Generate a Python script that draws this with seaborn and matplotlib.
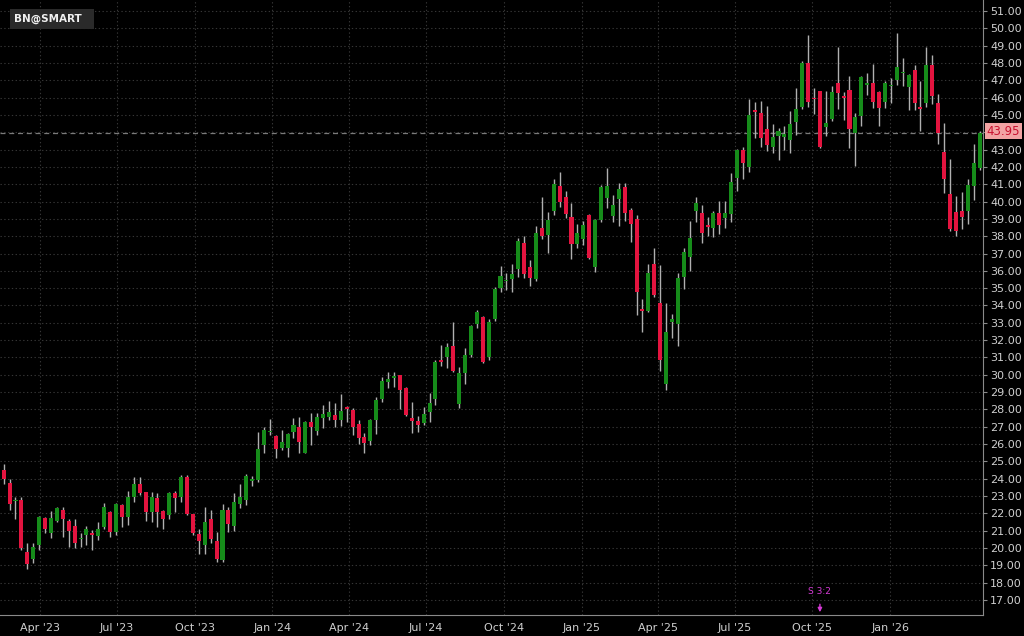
import numpy as np
import pandas as pd
import matplotlib
matplotlib.use("Agg")
import matplotlib.pyplot as plt
import matplotlib.dates as mdates
import seaborn as sns

# ---------------- data (weekly OHLC) ----------------
opens = [24.50, 23.76, 22.70, 22.76, 19.78, 19.39, 20.16, 21.74, 20.88, 21.57,
         22.22, 21.57, 21.26, 20.49, 20.74, 20.88, 20.68, 21.22, 22.09, 20.93,
         22.47, 21.80, 22.95, 23.72, 23.24, 22.09, 22.86, 22.15, 21.90, 23.19,
         22.95, 24.07, 21.95, 20.80, 20.16, 21.70, 20.41, 19.30, 22.18, 21.26,
         22.53, 22.76, 23.88, 23.92, 25.94, 26.68, 26.46, 25.80, 25.75, 26.71,
         26.98, 25.50, 27.29, 26.77, 27.48, 27.57, 27.67, 27.38, 28.11, 27.96,
         27.15, 26.42, 26.19, 27.38, 28.58, 29.60, 29.81, 29.98, 29.21, 27.52,
         27.34, 27.19, 27.86, 28.58, 30.85, 31.04, 31.66, 28.30, 30.08, 31.14,
         32.93, 33.35, 31.04, 33.20, 34.99, 35.42, 35.51, 36.09, 37.63, 36.20,
         35.51, 38.45, 38.07, 39.47, 40.90, 40.24, 39.09, 37.55, 37.82, 39.22,
         36.24, 38.93, 40.19, 39.16, 40.13, 40.86, 39.51, 38.97, 33.77, 33.69,
         36.39, 34.16, 29.46, 33.06, 32.92, 35.66, 36.77, 39.47, 39.32, 38.64,
         38.45, 39.35, 39.03, 39.28, 41.34, 42.97, 42.01, 45.28, 45.09, 44.17,
         43.13, 43.78, 43.70, 43.55, 44.61, 45.44, 48.02, 45.96, 46.40, 44.32,
         44.74, 46.86, 46.09, 46.44, 43.97, 44.94, 46.73, 46.86, 46.34, 45.76,
         46.67, 47.02, 47.40, 46.63, 47.59, 45.44, 45.67, 47.88, 45.71, 42.88,
         40.43, 39.41, 39.47, 39.47, 40.89, 41.92]
highs = [24.84, 23.96, 22.92, 22.92, 20.26, 20.26, 21.85, 21.80, 22.13, 22.34,
         22.38, 21.65, 21.65, 20.84, 21.26, 21.03, 21.51, 22.57, 22.13, 22.57,
         22.53, 23.30, 24.07, 24.07, 23.24, 23.24, 23.15, 22.18, 23.24, 23.30,
         24.21, 24.21, 21.95, 21.12, 22.34, 22.22, 20.93, 22.53, 22.38, 23.19,
         23.69, 24.26, 24.15, 26.71, 27.00, 27.42, 26.52, 26.80, 26.65, 27.48,
         27.54, 27.32, 27.77, 27.77, 28.25, 28.50, 28.38, 28.86, 28.19, 28.06,
         27.38, 26.65, 27.42, 28.69, 29.85, 30.17, 30.17, 29.98, 29.31, 28.44,
         27.61, 28.11, 28.96, 30.85, 31.71, 31.81, 33.06, 30.45, 31.52, 32.87,
         33.74, 33.39, 33.20, 35.08, 36.28, 35.85, 36.39, 37.88, 38.01, 36.62,
         38.59, 40.24, 39.42, 41.28, 41.73, 40.63, 39.90, 38.70, 38.90, 39.28,
         38.97, 40.96, 41.92, 40.38, 41.09, 41.05, 39.61, 39.22, 34.35, 36.39,
         37.30, 36.33, 34.12, 33.50, 35.85, 37.30, 38.89, 40.28, 39.80, 39.08,
         39.47, 40.05, 40.05, 41.62, 43.01, 43.13, 45.90, 45.76, 45.82, 45.51,
         44.47, 44.22, 44.36, 45.24, 46.53, 48.13, 49.61, 46.53, 46.40, 46.40,
         46.67, 48.90, 46.34, 47.25, 45.13, 47.25, 47.40, 47.94, 46.40, 46.98,
         47.11, 49.71, 48.27, 47.35, 47.88, 46.98, 48.90, 48.46, 46.21, 44.55,
         42.43, 40.32, 40.57, 41.28, 43.32, 44.10]
lows = [23.72, 22.18, 21.65, 19.90, 18.80, 19.14, 19.88, 20.84, 20.60, 21.51,
        20.65, 20.07, 19.97, 20.03, 20.16, 19.88, 20.45, 21.12, 20.65, 20.74,
        21.22, 21.32, 22.67, 23.05, 21.57, 21.51, 21.22, 21.07, 21.70, 22.09,
        22.67, 21.90, 20.74, 19.68, 19.65, 20.26, 19.20, 19.20, 20.93, 20.99,
        22.28, 22.47, 23.57, 23.82, 25.50, 26.50, 25.17, 25.65, 25.27, 26.33,
        25.50, 25.46, 25.94, 26.52, 26.90, 27.38, 26.96, 27.04, 27.29, 26.52,
        26.00, 25.50, 25.94, 26.57, 28.44, 29.21, 29.27, 28.00, 27.61, 26.65,
        26.71, 27.09, 27.29, 28.25, 30.50, 30.37, 30.18, 28.10, 29.46, 31.04,
        32.68, 30.70, 30.85, 33.12, 34.80, 34.89, 34.80, 35.62, 35.57, 35.12,
        35.43, 37.82, 37.01, 39.22, 39.70, 39.03, 36.66, 37.30, 37.49, 36.66,
        35.95, 38.84, 39.61, 38.84, 38.59, 38.90, 37.68, 33.45, 32.48, 33.64,
        34.50, 30.23, 29.11, 32.10, 31.65, 34.93, 36.00, 38.83, 37.62, 38.01,
        37.93, 38.12, 38.45, 38.83, 40.62, 41.28, 41.72, 43.65, 43.13, 42.93,
        42.82, 42.39, 42.97, 42.82, 43.84, 45.32, 45.44, 45.05, 43.07, 43.78,
        44.67, 45.32, 44.70, 43.07, 42.05, 44.36, 46.15, 45.38, 44.36, 45.38,
        45.70, 46.73, 46.67, 45.28, 45.28, 44.09, 45.44, 45.63, 43.32, 40.47,
        38.31, 38.00, 38.39, 38.70, 40.09, 41.80]
closes = [23.96, 22.53, 22.77, 19.97, 19.10, 20.07, 21.80, 21.07, 21.74, 22.28,
          21.70, 20.99, 20.26, 20.60, 21.07, 20.74, 21.10, 22.38, 20.93, 22.53,
          21.80, 22.95, 23.72, 23.19, 22.09, 22.95, 22.09, 21.70, 23.15, 22.86,
          24.07, 21.95, 20.84, 20.41, 21.51, 20.49, 19.39, 22.18, 21.41, 22.67,
          22.95, 24.15, 23.96, 25.69, 26.80, 26.72, 25.69, 26.13, 26.57, 27.09,
          26.13, 27.29, 26.96, 27.54, 27.73, 27.86, 27.38, 27.92, 28.00, 26.96,
          26.33, 26.04, 27.38, 28.54, 29.65, 29.73, 29.92, 29.11, 27.67, 27.34,
          27.09, 27.73, 28.38, 30.75, 30.75, 31.62, 30.23, 30.08, 31.14, 32.81,
          33.64, 30.75, 33.06, 34.93, 35.70, 35.45, 35.80, 37.72, 35.82, 35.57,
          38.20, 38.01, 38.93, 41.01, 39.99, 39.28, 37.55, 38.20, 38.63, 36.72,
          38.93, 40.86, 40.90, 39.80, 40.71, 39.36, 38.70, 34.80, 33.67, 35.89,
          34.60, 30.84, 32.48, 33.21, 35.56, 37.10, 37.87, 39.93, 38.16, 38.54,
          39.35, 38.64, 39.35, 41.14, 42.97, 42.20, 44.99, 45.18, 43.65, 43.26,
          43.74, 44.09, 43.90, 44.47, 45.32, 48.02, 45.76, 45.90, 43.13, 44.55,
          46.34, 46.25, 45.96, 44.17, 44.86, 47.17, 46.86, 45.76, 45.38, 46.86,
          46.73, 47.79, 47.50, 47.30, 45.71, 45.32, 47.88, 46.09, 43.93, 41.28,
          38.39, 38.31, 39.12, 40.95, 42.24, 43.95]

dates = pd.date_range("2023-02-17", periods=len(closes), freq="7D")
tick_dates = pd.date_range("2023-04-01", "2026-01-01", freq="QS")
last_price = 43.95
symbol = "BN@SMART"
event_label = "S 3:2"
event_date = pd.Timestamp("2025-10-10")

df = pd.DataFrame({"date": dates, "open": opens, "high": highs,
                   "low": lows, "close": closes})

# ---------------- style ----------------
sns.set_theme(style="dark", rc={
    "figure.facecolor": "black",
    "axes.facecolor": "black",
    "savefig.facecolor": "black",
})
plt.rcParams["font.family"] = ["DejaVu Sans"]

fig = plt.figure(figsize=(10.24, 6.36), dpi=100)
ax = fig.add_axes([0.0, 21 / 636, 983 / 1024, 615 / 636])
ax.set_facecolor("black")

GREEN = "#168c1a"
RED = "#e3143f"
WICK = "#b0b0b0"

x = mdates.date2num(df["date"])
up = df["close"] >= df["open"]
colors = np.where(up, GREEN, RED)
bottoms = np.minimum(df["open"], df["close"])
heights = np.maximum(np.abs(df["close"] - df["open"]), 0.07)

ax.vlines(x, df["low"], df["high"], color=WICK, lw=1.0, zorder=2)
ax.bar(x, heights, bottom=bottoms, width=4.8, color=colors, linewidth=0,
       zorder=3)

# ---------------- axes ----------------
xmin = mdates.date2num(pd.Timestamp("2023-02-12 16:00"))
xmax = mdates.date2num(pd.Timestamp("2026-04-21"))
ax.set_xlim(xmin, xmax)
ax.set_ylim(16.13, 51.635)

ax.set_xticks(mdates.date2num(tick_dates))
ax.set_xticklabels([d.strftime("%b '%y") for d in tick_dates])
yt = np.arange(17, 52, 1.0)
ax.set_yticks(yt)
# the 44.00 label sits under the last-price box, as in the reference
ax.set_yticklabels(["" if abs(v - 44) < 1e-9 else f"{v:.2f}" for v in yt])

ax.yaxis.tick_right()
ax.tick_params(axis="y", colors="#8a8a8a", labelcolor="#cfcfcf", labelsize=8,
               length=3, width=0.8, pad=2, direction="out")
ax.tick_params(axis="x", colors="#8a8a8a", labelcolor="#cfcfcf", labelsize=8,
               length=3, width=0.8, pad=3, direction="out")

for s in ["left", "top"]:
    ax.spines[s].set_visible(False)
for s in ["right", "bottom"]:
    ax.spines[s].set_visible(True)
    ax.spines[s].set_color("#8a8a8a")
    ax.spines[s].set_linewidth(0.8)

ax.grid(True, axis="both", color="#363636", linestyle=(0, (1.2, 2.2)),
        linewidth=0.8, zorder=0)
ax.set_axisbelow(True)

# last-price line and label
ax.axhline(last_price, color="#7a7a7a", lw=0.9, linestyle=(0, (4, 3)), zorder=1)
ax.text(1.0035, last_price + 0.12, f"{last_price:.2f}", transform=ax.get_yaxis_transform(),
        ha="left", va="center", fontsize=8.5, color="#c8102e", zorder=10,
        bbox=dict(boxstyle="square,pad=0.15", fc="#f2a3a3", ec="none"),
        clip_on=False)

# symbol badge
ax.text(0.0145, 0.969, symbol + "  ", transform=ax.transAxes, ha="left",
        va="center", fontsize=7.5, fontweight="bold", color="#f0f0f0",
        bbox=dict(boxstyle="square,pad=0.45", fc="#2a2a2a", ec="none"),
        zorder=10)

# event marker
ex = mdates.date2num(event_date)
ax.annotate("", xy=(ex, 0.0), xycoords=("data", "axes fraction"),
            xytext=(ex, 0.022), textcoords=("data", "axes fraction"),
            arrowprops=dict(arrowstyle="-|>", color="#d63ad6", lw=1.0,
                            mutation_scale=6), zorder=10)
ax.text(ex, 0.031, event_label, transform=ax.get_xaxis_transform(),
        ha="center", va="bottom", fontsize=6.5, color="#d63ad6", zorder=10)

fig.savefig("out.png", dpi=100, facecolor="black")
